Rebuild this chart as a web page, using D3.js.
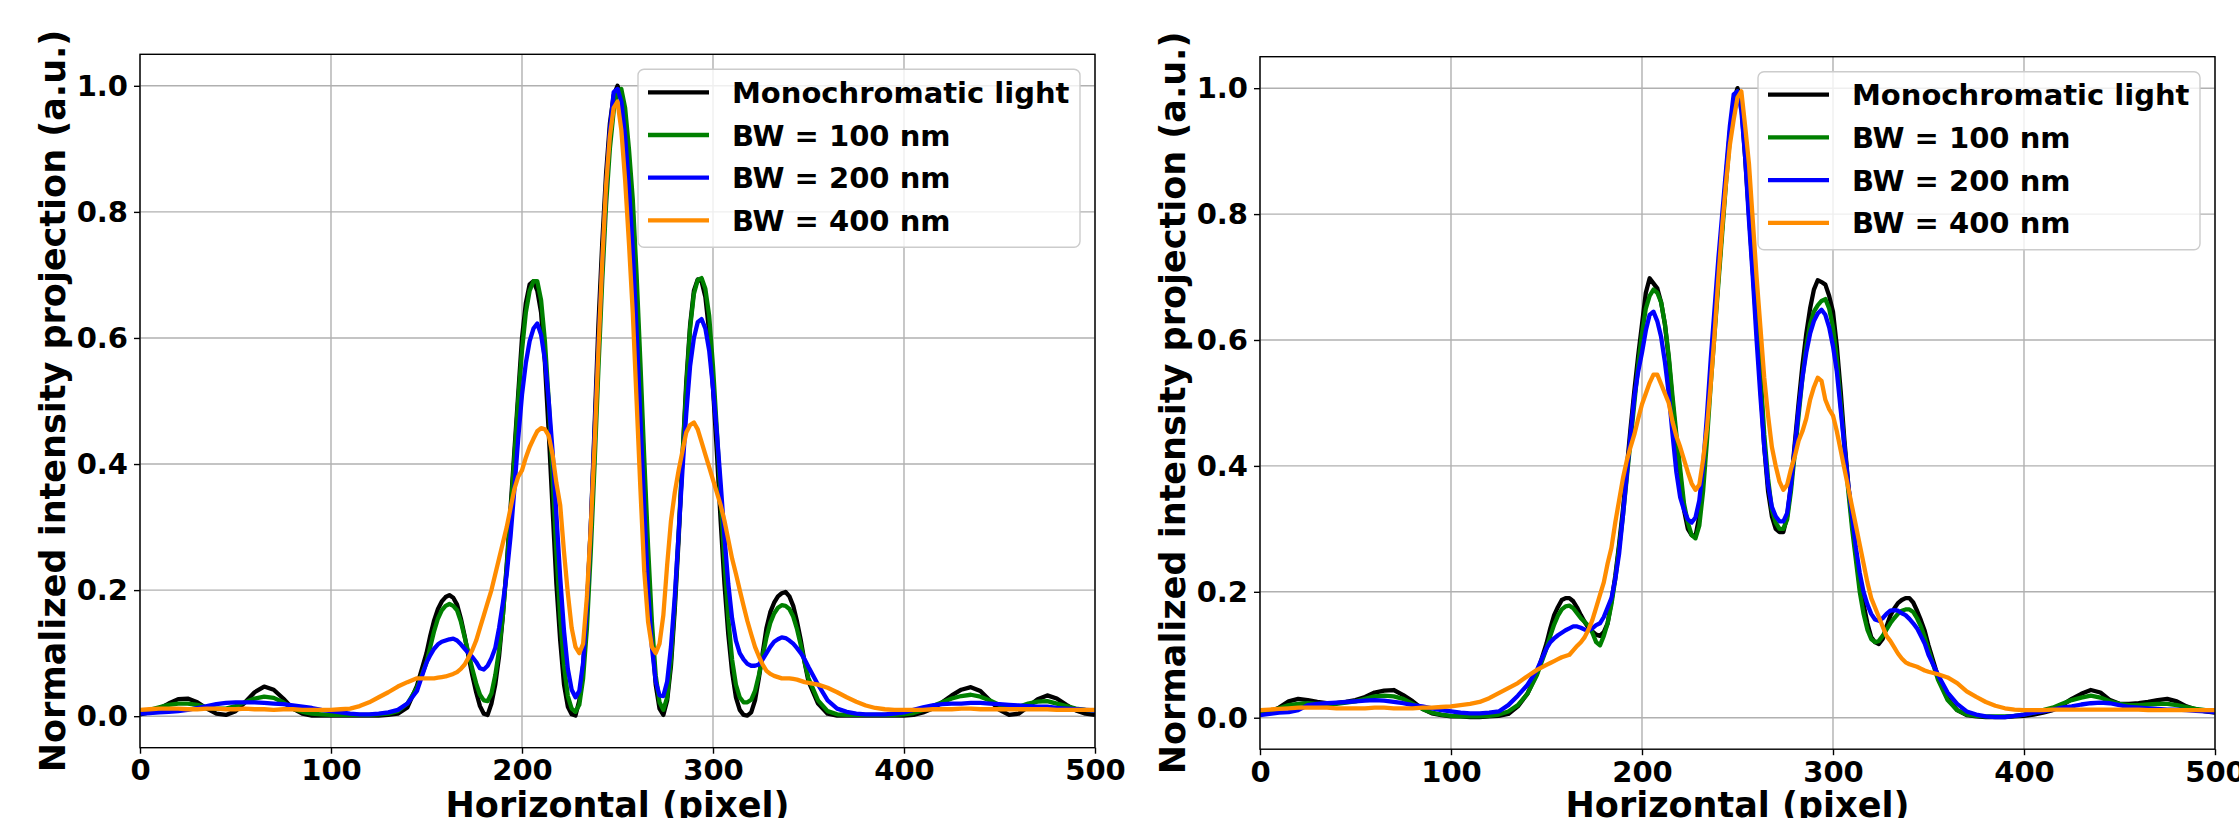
<!DOCTYPE html>
<html>
<head>
	<title>Normalized intensity projection</title>
	<meta charset="utf-8">
	<script src="https://d3js.org/d3.v7.min.js"></script>
	<style>
		body { margin: 0; background: #fff; }
		text { font-family: "DejaVu Sans", sans-serif; font-weight: bold; fill: #000; }
	</style>
</head>
<body>
	<script type="text/javascript">
		var width = 2239
		var height = 818

		// horizontal pixel positions shared by every curve (finer sampling around the fringes)
		var xs = [].concat(d3.range(0, 150, 5), d3.range(150, 351, 2), d3.range(355, 501, 5))

		var labels = ["Monochromatic light", "BW = 100 nm", "BW = 200 nm", "BW = 400 nm"]
		var colors = ["black", "green", "blue", "darkorange"]
		var xTicks = [0, 100, 200, 300, 400, 500]
		var yTicks = [0, 0.2, 0.4, 0.6, 0.8, 1.0]

		// ---- left panel ----
		var L_mono = [
			0.003, 0.006, 0.012, 0.020, 0.027, 0.028, 0.022, 0.012, 0.004, 0.002,
			0.008, 0.022, 0.038, 0.047, 0.042, 0.028, 0.012, 0.004, 0.001, 0.001,
			0.001, 0.001, 0.001, 0.001, 0.001, 0.001, 0.002, 0.004, 0.014, 0.048,
			0.100, 0.128, 0.152, 0.170, 0.182, 0.189, 0.192, 0.188, 0.177, 0.155,
			0.127, 0.095, 0.065, 0.038, 0.016, 0.004, 0.002, 0.020, 0.050, 0.095,
			0.160, 0.240, 0.330, 0.420, 0.510, 0.600, 0.655, 0.685, 0.690, 0.675,
			0.640, 0.560, 0.450, 0.330, 0.210, 0.120, 0.050, 0.015, 0.003, 0.001,
			0.025, 0.080, 0.170, 0.300, 0.460, 0.620, 0.750, 0.860, 0.940, 0.985,
			1.000, 0.985, 0.940, 0.870, 0.800, 0.670, 0.530, 0.380, 0.240, 0.130,
			0.050, 0.012, 0.002, 0.025, 0.080, 0.170, 0.280, 0.410, 0.530, 0.620,
			0.675, 0.693, 0.690, 0.665, 0.610, 0.520, 0.420, 0.310, 0.210, 0.130,
			0.070, 0.030, 0.010, 0.002, 0.001, 0.006, 0.025, 0.060, 0.100, 0.140,
			0.165, 0.180, 0.190, 0.195, 0.197, 0.190, 0.175, 0.150, 0.120, 0.085, 0.055,
			0.020, 0.004, 0.001, 0.001, 0.001, 0.001, 0.001, 0.001, 0.001, 0.001,
			0.002, 0.006, 0.012, 0.022, 0.033, 0.042, 0.046, 0.040, 0.025, 0.010,
			0.002, 0.004, 0.015, 0.027, 0.033, 0.028, 0.018, 0.009, 0.004, 0.002]

		var L_100 = [
			0.006, 0.010, 0.014, 0.018, 0.020, 0.020, 0.018, 0.014, 0.012, 0.012,
			0.016, 0.022, 0.028, 0.031, 0.029, 0.022, 0.012, 0.007, 0.004, 0.003,
			0.002, 0.002, 0.002, 0.002, 0.002, 0.003, 0.004, 0.008, 0.020, 0.045,
			0.085, 0.110, 0.135, 0.155, 0.168, 0.175, 0.178, 0.175, 0.168, 0.150,
			0.125, 0.100, 0.075, 0.052, 0.034, 0.025, 0.024, 0.036, 0.065, 0.105,
			0.160, 0.235, 0.320, 0.410, 0.500, 0.580, 0.640, 0.675, 0.690, 0.690,
			0.660, 0.595, 0.500, 0.380, 0.260, 0.155, 0.080, 0.032, 0.012, 0.007,
			0.018, 0.060, 0.140, 0.260, 0.400, 0.550, 0.690, 0.810, 0.900, 0.960,
			0.990, 0.995, 0.965, 0.900, 0.820, 0.700, 0.560, 0.410, 0.270, 0.150,
			0.065, 0.022, 0.010, 0.030, 0.090, 0.180, 0.290, 0.410, 0.520, 0.615,
			0.670, 0.692, 0.695, 0.678, 0.635, 0.555, 0.455, 0.345, 0.245, 0.155,
			0.090, 0.050, 0.030, 0.022, 0.022, 0.026, 0.040, 0.065, 0.095, 0.125,
			0.148, 0.163, 0.172, 0.176, 0.175, 0.170, 0.158, 0.138, 0.112, 0.085, 0.060,
			0.025, 0.008, 0.003, 0.002, 0.002, 0.002, 0.002, 0.002, 0.002, 0.003,
			0.005, 0.010, 0.016, 0.022, 0.028, 0.032, 0.034, 0.031, 0.025, 0.018,
			0.014, 0.015, 0.020, 0.023, 0.024, 0.020, 0.016, 0.012, 0.010, 0.009]

		var L_200 = [
			0.004, 0.005, 0.006, 0.007, 0.008, 0.010, 0.013, 0.016, 0.019, 0.021,
			0.022, 0.022, 0.022, 0.021, 0.020, 0.019, 0.017, 0.015, 0.013, 0.010,
			0.008, 0.006, 0.004, 0.003, 0.003, 0.004, 0.006, 0.010, 0.020, 0.040,
			0.085, 0.097, 0.107, 0.114, 0.118, 0.120, 0.122, 0.123, 0.120, 0.114,
			0.107, 0.100, 0.094, 0.086, 0.076, 0.074, 0.080, 0.092, 0.108, 0.140,
			0.180, 0.225, 0.285, 0.360, 0.440, 0.510, 0.560, 0.595, 0.615, 0.623,
			0.605, 0.565, 0.500, 0.420, 0.320, 0.220, 0.135, 0.075, 0.042, 0.030,
			0.040, 0.085, 0.175, 0.300, 0.450, 0.590, 0.720, 0.840, 0.930, 0.990,
			0.995, 0.975, 0.920, 0.840, 0.740, 0.610, 0.470, 0.330, 0.200, 0.110,
			0.055, 0.033, 0.032, 0.055, 0.110, 0.190, 0.290, 0.390, 0.480, 0.555,
			0.600, 0.625, 0.630, 0.615, 0.580, 0.520, 0.450, 0.370, 0.285, 0.210,
			0.155, 0.120, 0.100, 0.090, 0.083, 0.080, 0.080, 0.082, 0.090, 0.100,
			0.110, 0.118, 0.122, 0.125, 0.124, 0.120, 0.115, 0.108, 0.100, 0.090, 0.078,
			0.050, 0.025, 0.012, 0.007, 0.004, 0.003, 0.003, 0.003, 0.004, 0.006,
			0.010, 0.014, 0.017, 0.019, 0.020, 0.020, 0.021, 0.021, 0.020, 0.019,
			0.018, 0.017, 0.016, 0.015, 0.015, 0.013, 0.012, 0.011, 0.010, 0.009]

		var L_400 = [
			0.010, 0.011, 0.012, 0.012, 0.012, 0.011, 0.011, 0.012, 0.012, 0.011,
			0.011, 0.012, 0.011, 0.011, 0.010, 0.011, 0.011, 0.010, 0.010, 0.010,
			0.010, 0.011, 0.012, 0.016, 0.022, 0.030, 0.038, 0.047, 0.054, 0.060,
			0.060, 0.060, 0.060, 0.061, 0.062, 0.063, 0.065, 0.067, 0.070, 0.075,
			0.082, 0.093, 0.105, 0.120, 0.140, 0.160, 0.180, 0.200, 0.225, 0.250,
			0.275, 0.300, 0.330, 0.360, 0.380, 0.390, 0.410, 0.427, 0.440, 0.452,
			0.457, 0.455, 0.445, 0.415, 0.370, 0.335, 0.260, 0.195, 0.140, 0.110,
			0.100, 0.115, 0.190, 0.300, 0.430, 0.580, 0.720, 0.840, 0.920, 0.965,
			0.975, 0.930, 0.850, 0.750, 0.640, 0.500, 0.360, 0.230, 0.150, 0.110,
			0.100, 0.115, 0.160, 0.240, 0.310, 0.355, 0.390, 0.420, 0.450, 0.462,
			0.466, 0.455, 0.435, 0.415, 0.395, 0.375, 0.355, 0.335, 0.310, 0.280,
			0.250, 0.226, 0.200, 0.175, 0.151, 0.130, 0.110, 0.095, 0.082, 0.072,
			0.067, 0.064, 0.062, 0.060, 0.060, 0.060, 0.059, 0.058, 0.056, 0.054, 0.053,
			0.050, 0.045, 0.038, 0.030, 0.023, 0.017, 0.013, 0.011, 0.010, 0.010,
			0.010, 0.010, 0.011, 0.011, 0.011, 0.012, 0.012, 0.011, 0.011, 0.011,
			0.011, 0.011, 0.011, 0.011, 0.011, 0.010, 0.010, 0.010, 0.010, 0.010]

		// ---- right panel ----
		var R_mono = [
			0.005, 0.010, 0.016, 0.026, 0.030, 0.028, 0.025, 0.023, 0.023, 0.025,
			0.028, 0.033, 0.040, 0.043, 0.044, 0.036, 0.026, 0.014, 0.007, 0.004,
			0.002, 0.002, 0.001, 0.001, 0.002, 0.003, 0.006, 0.018, 0.038, 0.070,
			0.118, 0.142, 0.163, 0.176, 0.187, 0.190, 0.190, 0.185, 0.175, 0.163,
			0.152, 0.143, 0.137, 0.132, 0.130, 0.136, 0.150, 0.185, 0.225, 0.275,
			0.330, 0.395, 0.460, 0.520, 0.575, 0.625, 0.675, 0.698, 0.690, 0.682,
			0.660, 0.625, 0.570, 0.500, 0.440, 0.385, 0.330, 0.300, 0.290, 0.288,
			0.320, 0.380, 0.460, 0.550, 0.620, 0.700, 0.780, 0.860, 0.930, 0.980,
			1.000, 0.975, 0.890, 0.800, 0.710, 0.620, 0.530, 0.430, 0.360, 0.320,
			0.300, 0.295, 0.295, 0.320, 0.370, 0.436, 0.500, 0.560, 0.610, 0.650,
			0.680, 0.695, 0.692, 0.688, 0.670, 0.645, 0.590, 0.520, 0.440, 0.370,
			0.310, 0.260, 0.210, 0.180, 0.150, 0.128, 0.120, 0.117, 0.125, 0.145,
			0.162, 0.173, 0.182, 0.187, 0.190, 0.190, 0.183, 0.170, 0.155, 0.138, 0.115,
			0.065, 0.030, 0.012, 0.004, 0.002, 0.001, 0.001, 0.001, 0.002, 0.003,
			0.005, 0.008, 0.012, 0.020, 0.030, 0.038, 0.044, 0.040, 0.028, 0.022,
			0.022, 0.023, 0.025, 0.028, 0.030, 0.026, 0.018, 0.013, 0.010, 0.008]

		var R_100 = [
			0.006, 0.010, 0.015, 0.020, 0.022, 0.023, 0.022, 0.022, 0.022, 0.024,
			0.026, 0.030, 0.034, 0.035, 0.034, 0.030, 0.022, 0.014, 0.008, 0.005,
			0.003, 0.002, 0.002, 0.002, 0.003, 0.005, 0.010, 0.020, 0.038, 0.068,
			0.110, 0.130, 0.148, 0.162, 0.172, 0.177, 0.178, 0.174, 0.166, 0.158,
			0.152, 0.146, 0.135, 0.120, 0.115, 0.130, 0.150, 0.180, 0.220, 0.270,
			0.320, 0.380, 0.440, 0.500, 0.560, 0.610, 0.650, 0.670, 0.680, 0.675,
			0.660, 0.625, 0.575, 0.510, 0.450, 0.395, 0.340, 0.310, 0.290, 0.285,
			0.305, 0.360, 0.440, 0.530, 0.610, 0.690, 0.770, 0.850, 0.920, 0.975,
			0.995, 0.980, 0.910, 0.820, 0.730, 0.640, 0.550, 0.450, 0.380, 0.330,
			0.310, 0.300, 0.300, 0.315, 0.360, 0.420, 0.480, 0.540, 0.590, 0.625,
			0.645, 0.655, 0.662, 0.665, 0.650, 0.620, 0.570, 0.500, 0.430, 0.360,
			0.300, 0.250, 0.200, 0.165, 0.140, 0.125, 0.120, 0.122, 0.130, 0.140,
			0.150, 0.158, 0.165, 0.170, 0.172, 0.172, 0.168, 0.158, 0.145, 0.128, 0.108,
			0.060, 0.028, 0.012, 0.005, 0.003, 0.002, 0.002, 0.002, 0.003, 0.005,
			0.008, 0.012, 0.016, 0.022, 0.028, 0.032, 0.035, 0.032, 0.026, 0.022,
			0.020, 0.020, 0.021, 0.022, 0.022, 0.020, 0.017, 0.014, 0.012, 0.010]

		var R_200 = [
			0.004, 0.006, 0.008, 0.009, 0.012, 0.020, 0.022, 0.023, 0.024, 0.025,
			0.026, 0.027, 0.028, 0.027, 0.025, 0.023, 0.020, 0.018, 0.015, 0.012,
			0.010, 0.008, 0.007, 0.007, 0.008, 0.010, 0.020, 0.035, 0.052, 0.076,
			0.110, 0.120, 0.126, 0.131, 0.135, 0.139, 0.142, 0.145, 0.145, 0.143,
			0.140, 0.139, 0.142, 0.147, 0.150, 0.160, 0.175, 0.190, 0.220, 0.260,
			0.320, 0.385, 0.450, 0.510, 0.550, 0.580, 0.615, 0.640, 0.645, 0.630,
			0.605, 0.565, 0.515, 0.450, 0.390, 0.350, 0.330, 0.315, 0.310, 0.318,
			0.345, 0.400, 0.480, 0.570, 0.650, 0.730, 0.800, 0.870, 0.940, 0.990,
			0.995, 0.965, 0.890, 0.790, 0.700, 0.600, 0.510, 0.430, 0.370, 0.335,
			0.320, 0.312, 0.312, 0.325, 0.370, 0.430, 0.490, 0.540, 0.580, 0.610,
			0.630, 0.642, 0.648, 0.640, 0.620, 0.590, 0.550, 0.490, 0.430, 0.370,
			0.320, 0.270, 0.230, 0.200, 0.180, 0.165, 0.156, 0.154, 0.158, 0.165,
			0.170, 0.171, 0.170, 0.166, 0.163, 0.157, 0.150, 0.142, 0.130, 0.118, 0.100,
			0.068, 0.040, 0.022, 0.010, 0.005, 0.002, 0.001, 0.001, 0.003, 0.005,
			0.008, 0.010, 0.013, 0.016, 0.018, 0.021, 0.023, 0.024, 0.023, 0.020,
			0.017, 0.016, 0.015, 0.014, 0.013, 0.013, 0.012, 0.011, 0.010, 0.009]

		var R_400 = [
			0.012, 0.013, 0.014, 0.015, 0.016, 0.016, 0.016, 0.016, 0.015, 0.015,
			0.015, 0.015, 0.016, 0.016, 0.015, 0.015, 0.015, 0.016, 0.016, 0.017,
			0.018, 0.020, 0.022, 0.025, 0.031, 0.039, 0.047, 0.055, 0.066, 0.076,
			0.084, 0.087, 0.090, 0.093, 0.096, 0.098, 0.100, 0.107, 0.114, 0.120,
			0.128, 0.140, 0.155, 0.175, 0.195, 0.215, 0.245, 0.270, 0.310, 0.345,
			0.380, 0.408, 0.430, 0.450, 0.475, 0.498, 0.515, 0.532, 0.545, 0.545,
			0.530, 0.515, 0.500, 0.470, 0.447, 0.430, 0.410, 0.390, 0.372, 0.362,
			0.370, 0.410, 0.460, 0.530, 0.610, 0.700, 0.780, 0.850, 0.910, 0.950,
			0.985, 0.995, 0.940, 0.880, 0.790, 0.700, 0.620, 0.540, 0.480, 0.430,
			0.400, 0.375, 0.362, 0.370, 0.395, 0.415, 0.440, 0.455, 0.475, 0.505,
			0.525, 0.540, 0.535, 0.505, 0.490, 0.480, 0.455, 0.425, 0.395, 0.365,
			0.335, 0.305, 0.275, 0.245, 0.215, 0.190, 0.175, 0.160, 0.145, 0.130,
			0.122, 0.112, 0.102, 0.094, 0.088, 0.085, 0.083, 0.081, 0.078, 0.075, 0.073,
			0.069, 0.064, 0.055, 0.042, 0.033, 0.025, 0.019, 0.015, 0.013, 0.012,
			0.012, 0.012, 0.013, 0.013, 0.013, 0.013, 0.013, 0.013, 0.013, 0.013,
			0.013, 0.013, 0.012, 0.012, 0.012, 0.012, 0.012, 0.012, 0.012, 0.012]

		var panels = [
			{left: 140, right: 1095, top: 54.3, bottom: 747.7, series: [L_mono, L_100, L_200, L_400]},
			{left: 1260, right: 2215, top: 56.7, bottom: 749.2, series: [R_mono, R_100, R_200, R_400]}
		]

		var svg = d3.select("body").append("svg")
			.attr("width", width)
			.attr("height", height)

		svg.append("rect").attr("width", width).attr("height", height).attr("fill", "#fff")

		panels.forEach(function(p, pi)
		{
			var w = p.right - p.left
			var h = p.bottom - p.top
			var x = d3.scaleLinear().domain([0, 500]).range([0, w])
			var y = d3.scaleLinear().domain([-0.05, 1.05]).range([h, 0])

			var g = svg.append("g").attr("transform", "translate(" + p.left + "," + p.top + ")")

			// grid
			g.selectAll(".gx").data(xTicks).enter().append("line")
				.attr("x1", d => x(d)).attr("x2", d => x(d))
				.attr("y1", 0).attr("y2", h)
				.attr("stroke", "#b0b0b0").attr("stroke-width", 1.4)
			g.selectAll(".gy").data(yTicks).enter().append("line")
				.attr("x1", 0).attr("x2", w)
				.attr("y1", d => y(d)).attr("y2", d => y(d))
				.attr("stroke", "#b0b0b0").attr("stroke-width", 1.4)

			g.append("clipPath").attr("id", "clip" + pi)
				.append("rect").attr("width", w).attr("height", h)

			var line = d3.line()
				.x((d, i) => x(xs[i]))
				.y(d => y(d))

			g.append("g").attr("clip-path", "url(#clip" + pi + ")")
				.selectAll("path")
				.data(p.series)
				.enter()
				.append("path")
				.attr("d", line)
				.attr("fill", "none")
				.attr("stroke", (d, i) => colors[i])
				.attr("stroke-width", 4.3)
				.attr("stroke-linejoin", "round")

			// axes
			var xAxis = g.append("g").attr("transform", "translate(0," + h + ")")
				.call(d3.axisBottom(x).tickValues(xTicks).tickSize(6).tickPadding(6).tickFormat(d3.format("d")))
			var yAxis = g.append("g")
				.call(d3.axisLeft(y).tickValues(yTicks).tickSize(6).tickPadding(6).tickFormat(d3.format(".1f")))
			;[xAxis, yAxis].forEach(function(a)
			{
				a.select(".domain").remove()
				a.selectAll(".tick line").attr("stroke", "#000").attr("stroke-width", 1.4)
				a.selectAll(".tick text").attr("font-size", 29).attr("font-family", "DejaVu Sans").attr("font-weight", "bold").attr("fill", "#000")
			})

			// spines
			g.append("rect").attr("width", w).attr("height", h)
				.attr("fill", "none").attr("stroke", "#000").attr("stroke-width", 1.4)

			// axis titles
			g.append("text")
				.attr("x", w / 2).attr("y", 818 - p.top - 1)
				.attr("text-anchor", "middle")
				.attr("font-size", 35)
				.text("Horizontal (pixel)")
			g.append("text")
				.attr("transform", "translate(-75," + (h / 2) + ") rotate(-90)")
				.attr("text-anchor", "middle")
				.attr("font-size", 35)
				.text("Normalized intensity projection (a.u.)")

			// legend
			var lg = g.append("g").attr("transform", "translate(" + (w - 15 - 442) + ",15)")
			lg.append("rect")
				.attr("width", 442).attr("height", 178).attr("rx", 6).attr("ry", 6)
				.attr("fill", "#fff").attr("fill-opacity", 0.8)
				.attr("stroke", "#cccccc").attr("stroke-width", 1.4)
			var rows = lg.selectAll(".row").data(labels).enter().append("g")
				.attr("transform", (d, i) => "translate(0," + (23 + i * 42.7) + ")")
			rows.append("line")
				.attr("x1", 10).attr("x2", 71)
				.attr("stroke", (d, i) => colors[i]).attr("stroke-width", 4.3)
			rows.append("text")
				.attr("x", 94).attr("y", 10.5)
				.attr("font-size", 29)
				.text(d => d)
		})
	</script>
</body>
</html>
